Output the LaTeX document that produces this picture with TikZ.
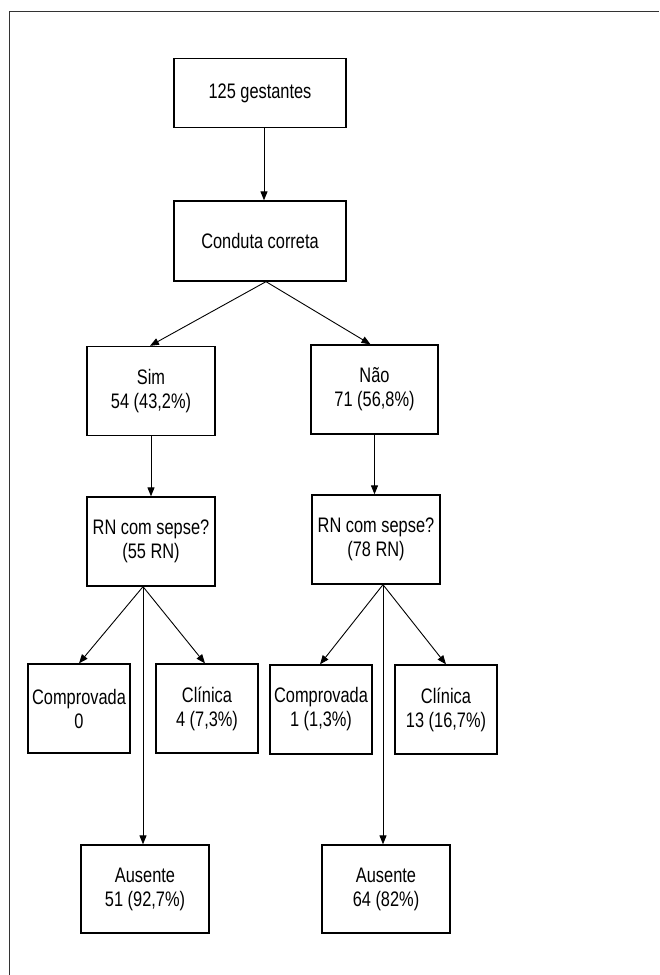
\documentclass[tikz,border=0pt]{standalone}
\usepackage{fontspec}
\setmainfont{Liberation Sans}[FakeStretch=0.78]
\usetikzlibrary{arrows.meta,calc}
\begin{document}
\begin{tikzpicture}[x=1pt,y=-1pt,
  box/.style={draw=black,line width=1.3pt,inner sep=0pt,align=center,
    font=\fontsize{21}{24}\selectfont},
  conn/.style={draw=black,line width=0.9pt,-{Triangle[length=9pt,width=7pt]}}]
\useasboundingbox (0,0) rectangle (659,975);
% frame
\draw[line width=1pt,draw=black!80] (9,975) -- (9,11) -- (659,11);
% nodes
\node[box,minimum width=172pt,minimum height=69pt] (g) at (260,93) {125 gestantes};
\node[box,minimum width=172pt,minimum height=80pt] (c) at (260,241) {Conduta correta};
\node[box,minimum width=128pt,minimum height=89pt] (sim) at (151,391) {Sim\\54 (43,2\%)};
\node[box,minimum width=127pt,minimum height=89pt] (nao) at (374.5,389.5) {Não\\71 (56,8\%)};
\node[box,minimum width=128pt,minimum height=89pt] (rn1) at (151,541.5) {RN com sepse?\\(55 RN)};
\node[box,minimum width=128pt,minimum height=89pt] (rn2) at (376,539.5) {RN com sepse?\\(78 RN)};
\node[box,minimum width=102pt,minimum height=89pt] (cp1) at (79,708.5) {Comprovada\\0};
\node[box,minimum width=102pt,minimum height=89pt] (cl1) at (207,708.5) {Clínica\\4 (7,3\%)};
\node[box,minimum width=102pt,minimum height=89pt] (cp2) at (321,709.5) {Comprovada\\1 (1,3\%)};
\node[box,minimum width=102pt,minimum height=89pt] (cl2) at (446,709.5) {Clínica\\13 (16,7\%)};
\node[box,minimum width=128pt,minimum height=88pt] (a1) at (145,889) {Ausente\\51 (92,7\%)};
\node[box,minimum width=128pt,minimum height=88pt] (a2) at (386,889) {Ausente\\64 (82\%)};
% fan points
\coordinate (f0) at ($(c.south)+(6,0)$);
\coordinate (f1) at ($(rn1.south)+(-8,0)$);
\coordinate (f2) at ($(rn2.south)+(7,0)$);
\coordinate (g0) at ($(g.south)+(4,0)$);
% connectors
\draw[conn] (g0) -- (g0 |- c.north);
\draw[conn] (f0) -- ($(sim.north)+(-1,0)$);
\draw[conn] (f0) -- ($(nao.north)+(-4,0)$);
\draw[conn] (sim.south) -- (sim.south |- rn1.north);
\draw[conn] (nao.south) -- (nao.south |- rn2.north);
\draw[conn] (f1) -- (cp1.north);
\draw[conn] (f1) -- ($(cl1.north)+(-2,0)$);
\draw[conn] (f1) -- (f1 |- a1.north);
\draw[conn] (f2) -- ($(cp2.north)+(-1,0)$);
\draw[conn] (f2) -- (cl2.north);
\draw[conn] (f2) -- (f2 |- a2.north);
\end{tikzpicture}
\end{document}
